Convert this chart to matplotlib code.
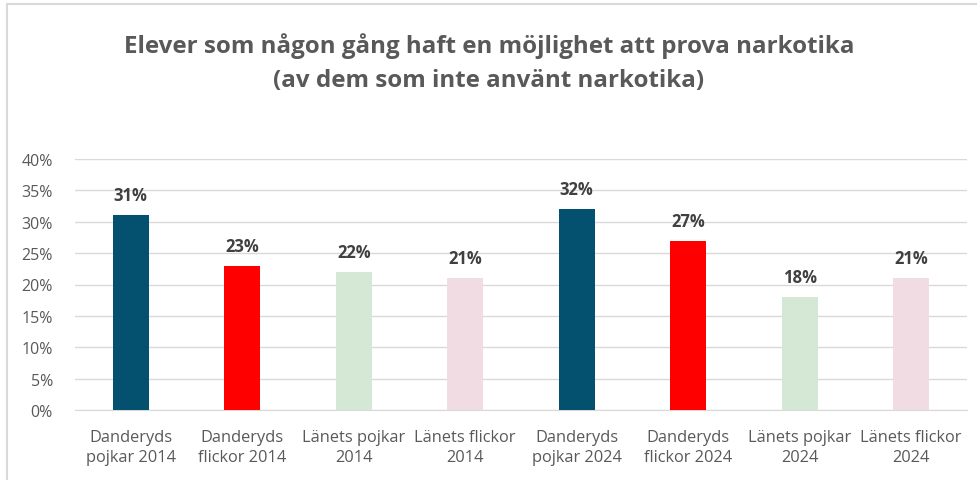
import matplotlib.pyplot as plt
from matplotlib.patches import Rectangle
from matplotlib.ticker import PercentFormatter

categories = ['Danderyds\npojkar 2014', 'Danderyds\nflickor 2014', 'Länets pojkar\n2014',
              'Länets flickor\n2014', 'Danderyds\npojkar 2024', 'Danderyds\nflickor 2024',
              'Länets pojkar\n2024', 'Länets flickor\n2024']
values = [31, 23, 22, 21, 32, 27, 18, 21]
colors = ['#03506F', '#FF0000', '#D5E8D6', '#F2DCE3',
          '#03506F', '#FF0000', '#D5E8D6', '#F2DCE3']

plt.rcParams['font.family'] = ['Open Sans', 'DejaVu Sans']

W, H = 978, 481
fig = plt.figure(figsize=(W / 100, H / 100), dpi=100)

# outer frame
fig.patches.append(Rectangle((7 / W, -0.05), 1.1, (H - 5) / H + 0.05, transform=fig.transFigure,
                             fill=False, edgecolor='#D9D9D9', lw=1.5))

ax = fig.add_axes([75 / W, (H - 411) / H, (967 - 75) / W, (411 - 160) / H])
x = range(len(values))
bars = ax.bar(x, [v / 100 for v in values], width=0.32, color=colors, zorder=3)

for xi, v in zip(x, values):
    ax.text(xi, v / 100 + 0.024, f'{v}%', ha='center', va='baseline',
            fontsize=12, fontweight='bold', color='#404040')

ax.set_ylim(0, 0.4)
ax.set_xlim(-0.5, len(values) - 0.5)
ax.set_yticks([i / 100 for i in range(0, 41, 5)])
ax.yaxis.set_major_formatter(PercentFormatter(1.0, decimals=0))
ax.grid(axis='y', color='#D9D9D9', lw=1, zorder=0)
for s in ['top', 'right', 'left']:
    ax.spines[s].set_visible(False)
ax.spines['bottom'].set_color('#D9D9D9')
ax.set_xticks(list(x))
ax.set_xticklabels(categories, fontsize=11.8, color='#595959', linespacing=1.3)
ax.tick_params(axis='y', length=0, labelsize=11.5, labelcolor='#595959', pad=16)
ax.tick_params(axis='x', length=0, pad=14)

fig.text(0.5, (H - 63) / H, 'Elever som någon gång haft en möjlighet att prova narkotika\n(av dem som inte använt narkotika)',
         ha='center', va='center', fontsize=17.4, fontweight='bold', color='#595959', linespacing=1.55)

fig.savefig('out.png', dpi=100)
